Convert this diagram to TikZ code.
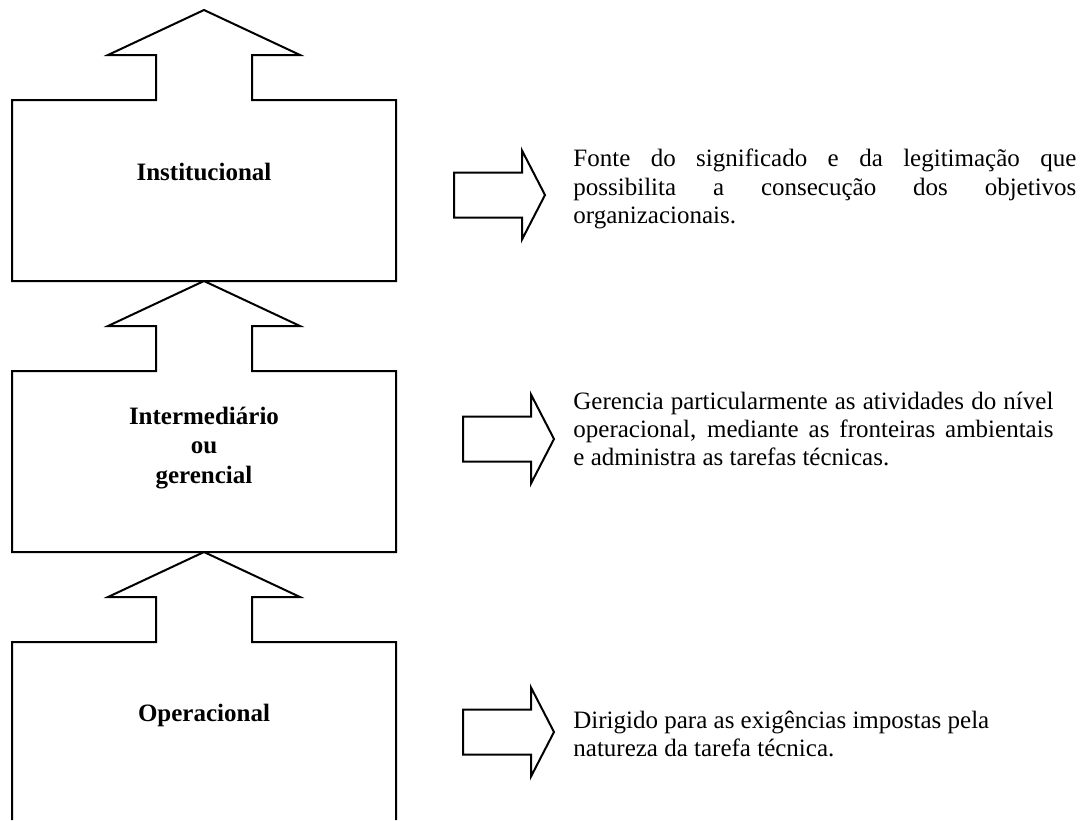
\documentclass[tikz,border=0pt]{standalone}
\usepackage{fontspec}
\setmainfont{Liberation Serif}
\begin{document}
\begin{tikzpicture}[x=0.5pt,y=-0.5pt,
  outline/.style={draw=black,line width=1pt,line join=miter},
  level/.style={font=\fontsize{12.5pt}{14.8pt}\selectfont\bfseries,align=center,inner sep=0pt},
  note/.style={font=\fontsize{12.5pt}{14.1pt}\selectfont,inner sep=0pt,anchor=west},
  rarrow/.pic={\draw[outline] (0,-22.5) -- (68,-22.5) -- (68,-44.5) -- (91,0)
                 -- (68,44.5) -- (68,22.5) -- (0,22.5) -- cycle;}]
\useasboundingbox (0,0) rectangle (1086,820);
\fill[white] (0,0) rectangle (1086,820);

% upper level with its outgoing arrow on top
\draw[outline] (12,281) -- (12,100) -- (156,100) -- (156,55) -- (108,55) -- (204,10)
  -- (300,55) -- (252,55) -- (252,100) -- (396,100) -- (396,281) -- cycle;
% middle level, its arrow pointing at the upper box
\draw[outline] (12,552) -- (12,371) -- (156,371) -- (156,326) -- (108,326) -- (204,281)
  -- (300,326) -- (252,326) -- (252,371) -- (396,371) -- (396,552) -- cycle;
% lower level, running off the bottom edge
\draw[outline] (12,820) -- (12,642) -- (156,642) -- (156,597) -- (108,597) -- (204,552)
  -- (300,597) -- (252,597) -- (252,642) -- (396,642) -- (396,820);

\node[level] (inst) at (204,172) {Institucional};
\node[level] (inter) at (204,448) {Intermediário\\ou\\gerencial};
\node[level] (oper) at (204,715) {Operacional};

% side arrows
\pic at (454,195) {rarrow};
\pic at (463,439) {rarrow};
\pic at (463,732) {rarrow};

\node[note,text width=251.5pt,align=justify] (d1) at (573,189)
  {Fonte do significado e da legitimação que\linebreak
   possibilita a consecução dos objetivos\linebreak organizacionais.};
\node[note,text width=240pt,align=justify] (d2) at (573,429)
  {Gerencia particularmente as atividades do nível\linebreak
   operacional, mediante as fronteiras ambientais\linebreak
   e administra as tarefas técnicas.};
\node[note,align=left] (d3) at (573,734)
  {Dirigido para as exigências impostas pela\\natureza da tarefa técnica.};
\end{tikzpicture}
\end{document}
